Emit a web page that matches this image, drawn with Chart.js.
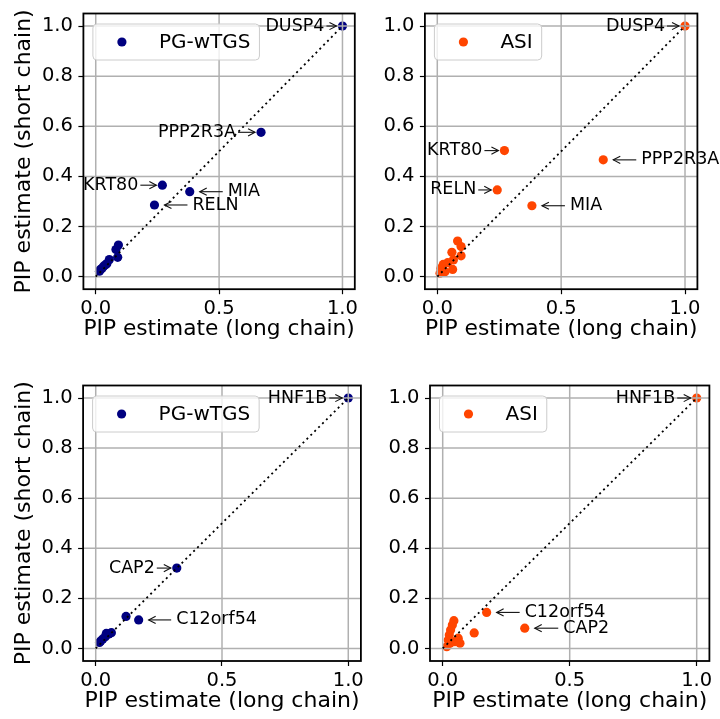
<!DOCTYPE html>
<html><head><meta charset="utf-8">
<script src="https://cdn.jsdelivr.net/npm/chart.js@4"></script>
<style>
html,body{margin:0;padding:0;background:#fff;}
#wrap{position:relative;width:720px;height:719px;overflow:hidden;background:#fff;}
canvas{position:absolute;}
</style></head><body><div id="wrap">
<canvas id="c0"></canvas><canvas id="c1"></canvas><canvas id="c2"></canvas><canvas id="c3"></canvas>
</div>
<script>
// ---------------- DATA ----------------
const xTickVals = [0.0, 0.5, 1.0];
const yTickVals = [0.0, 0.2, 0.4, 0.6, 0.8, 1.0];
const xTitle = 'PIP estimate (long chain)';
const yTitle = 'PIP estimate (short chain)';
const diagX = [0, 1];
const diagY = [0, 1];

// top row: first five points are the labelled genes
const topGenes = ['DUSP4', 'PPP2R3A', 'KRT80', 'MIA', 'RELN'];
const topPgX  = [1.000, 0.670, 0.270, 0.381, 0.238, 0.092, 0.082, 0.089, 0.055, 0.045, 0.040, 0.032, 0.025, 0.018, 0.015];
const topPgY  = [1.000, 0.576, 0.365, 0.339, 0.286, 0.126, 0.108, 0.077, 0.068, 0.052, 0.048, 0.042, 0.033, 0.028, 0.022];
const topAsiX = [1.000, 0.670, 0.271, 0.382, 0.242, 0.082, 0.096, 0.059, 0.096, 0.065, 0.042, 0.062, 0.024, 0.014, 0.031, 0.011];
const topAsiY = [1.000, 0.466, 0.503, 0.283, 0.346, 0.142, 0.120, 0.097, 0.083, 0.067, 0.056, 0.029, 0.049, 0.033, 0.020, 0.014];

// bottom row: first three points are the labelled genes
const botGenes = ['HNF1B', 'CAP2', 'C12orf54'];
const botPgX  = [1.000, 0.321, 0.170, 0.120, 0.062, 0.052, 0.042, 0.038, 0.028, 0.020, 0.015];
const botPgY  = [1.000, 0.321, 0.114, 0.128, 0.063, 0.058, 0.060, 0.047, 0.038, 0.030, 0.024];
const botAsiX = [1.000, 0.323, 0.173, 0.124, 0.044, 0.038, 0.031, 0.026, 0.061, 0.068, 0.029, 0.016, 0.048, 0.022, 0.055];
const botAsiY = [1.000, 0.081, 0.144, 0.062, 0.111, 0.094, 0.074, 0.054, 0.041, 0.021, 0.021, 0.007, 0.027, 0.034, 0.030];

const methodNames = ['PG-wTGS', 'ASI'];

// ---------------- STYLE / LAYOUT ----------------
const FONT = "'DejaVu Sans', 'Liberation Sans', sans-serif";
const COLORS = {'PG-wTGS': '#000080', 'ASI': '#ff4500'};
const TICK_PX = 19.5, TITLE_PX = 22, ANN_PX = 17.5, LEG_PX = 20, DOT_R = 4.6;

// annotation placement: [side of text, gap in px between point centre and text]
const panels = [
  {id:'c0', cx:0,   cy:0,   cw:360, ch:360, yW:83.4, padR:5.2,  padT:13.5, xH:70.8, yTitle:true,
   xs:topPgX, ys:topPgY, genes:topGenes, method:0,
   place:{DUSP4:['left',18], PPP2R3A:['left',25], KRT80:['left',24], MIA:['right',38], RELN:['right',38]}},
  {id:'c1', cx:360, cy:0,   cw:360, ch:360, yW:64.9, padR:22.6, padT:13.5, xH:70.8, yTitle:false,
   xs:topAsiX, ys:topAsiY, genes:topGenes, method:1,
   place:{DUSP4:['left',20], PPP2R3A:['right',38], KRT80:['left',22], MIA:['right',38], RELN:['left',21]}},
  {id:'c2', cx:0,   cy:360, cw:380, ch:359, yW:83.1, padR:19.1, padT:25.5, xH:58,   yTitle:true,
   xs:botPgX, ys:botPgY, genes:botGenes, method:0,
   place:{HNF1B:['left',21], CAP2:['left',22], C12orf54:['right',37.5]}},
  {id:'c3', cx:380, cy:360, cw:340, ch:359, yW:50.0, padR:10.6, padT:25.5, xH:58,   yTitle:false,
   xs:botAsiX, ys:botAsiY, genes:botGenes, method:1,
   place:{HNF1B:['left',21.5], C12orf54:['right',38], CAP2:['right',38.5]}}
];

function drawGrid(chart){
  const {ctx, chartArea:a, scales:{x, y}} = chart;
  ctx.save();
  ctx.strokeStyle = '#b0b0b0'; ctx.lineWidth = 1.5;
  xTickVals.forEach(v => { const p = x.getPixelForValue(v); ctx.beginPath(); ctx.moveTo(p, a.top); ctx.lineTo(p, a.bottom); ctx.stroke(); });
  yTickVals.forEach(v => { const p = y.getPixelForValue(v); ctx.beginPath(); ctx.moveTo(a.left, p); ctx.lineTo(a.right, p); ctx.stroke(); });
  ctx.restore();
}

function drawArrow(ctx, x0, y0, x1, y1){
  const dir = Math.sign(x1 - x0);
  ctx.beginPath(); ctx.moveTo(x0, y0); ctx.lineTo(x1, y1); ctx.stroke();
  ctx.beginPath();
  ctx.moveTo(x1 - dir*7, y1 - 3.6); ctx.lineTo(x1, y1); ctx.lineTo(x1 - dir*7, y1 + 3.6);
  ctx.stroke();
}

function drawAnnotations(chart, p){
  const {ctx, scales:{x, y}} = chart;
  ctx.save();
  ctx.font = ANN_PX + 'px ' + FONT;
  ctx.fillStyle = '#000'; ctx.strokeStyle = '#111'; ctx.lineWidth = 1.1;
  ctx.textBaseline = 'middle';
  p.genes.forEach((g, i) => {
    const px = x.getPixelForValue(p.xs[i]), py = y.getPixelForValue(p.ys[i]);
    const [side, gap] = p.place[g];
    let tx, a0, a1;
    if (side === 'left'){ ctx.textAlign = 'right'; tx = px - gap; a0 = tx + 2; a1 = px - 6; }
    else { ctx.textAlign = 'left'; tx = px + gap; a0 = tx - 5; a1 = px + 10; }
    ctx.fillText(g, tx, py);
    drawArrow(ctx, a0, py, a1, py);
  });
  ctx.restore();
}

function drawLegend(chart){
  const {ctx, chartArea:a} = chart;
  const ds = chart.data.datasets[1];
  ctx.save();
  ctx.font = LEG_PX + 'px ' + FONT;
  const tw = ctx.measureText(ds.label).width;
  const bx = a.left + 9.5, by = a.top + 10.5, bw = 66 + tw + 9, bh = 36, r = 4;
  ctx.beginPath();
  ctx.roundRect(bx, by, bw, bh, r);
  ctx.fillStyle = 'rgba(255,255,255,0.8)'; ctx.fill();
  ctx.strokeStyle = '#cccccc'; ctx.lineWidth = 1; ctx.stroke();
  ctx.beginPath(); ctx.arc(bx + 29, by + bh/2, DOT_R, 0, Math.PI*2);
  ctx.fillStyle = ds.backgroundColor; ctx.fill();
  ctx.fillStyle = '#000'; ctx.textAlign = 'left'; ctx.textBaseline = 'middle';
  ctx.fillText(ds.label, bx + 66, by + bh/2 + 0.5);
  ctx.restore();
}

function drawFrame(chart){
  const {ctx, chartArea:a} = chart;
  ctx.save(); ctx.strokeStyle = '#000'; ctx.lineWidth = 1.8;
  ctx.strokeRect(a.left, a.top, a.right - a.left, a.bottom - a.top);
  ctx.restore();
}

panels.forEach(p => {
  const cv = document.getElementById(p.id);
  cv.width = p.cw; cv.height = p.ch;
  cv.style.left = p.cx + 'px'; cv.style.top = p.cy + 'px';
  cv.style.width = p.cw + 'px'; cv.style.height = p.ch + 'px';
  const name = methodNames[p.method];
  const color = COLORS[name];
  const xTitlePad = p.xH - 40.5 - TITLE_PX*1.2/2;
  const plugin = {
    id: 'pipExtras',
    afterDatasetDraw(chart, args){ if (args.index === 1) drawGrid(chart); },
    afterDatasetsDraw(chart){ drawFrame(chart); drawAnnotations(chart, p); drawLegend(chart); }
  };
  new Chart(cv, {
    type: 'scatter',
    data: {
      datasets: [
        {label: 'diagonal', data: diagX.map((v, i) => ({x: v, y: diagY[i]})), showLine: true,
         borderColor: '#000', borderWidth: 1.8, borderDash: [2, 3.5], pointRadius: 0, order: 0, fill: false},
        {label: name, data: p.xs.map((v, i) => ({x: v, y: p.ys[i]})), backgroundColor: color,
         borderColor: color, borderWidth: 0, pointRadius: DOT_R, pointHoverRadius: DOT_R, order: 1}
      ]
    },
    options: {
      responsive: false, animation: false, devicePixelRatio: 1, events: [],
      layout: {padding: {top: p.padT, right: p.padR, left: 0, bottom: 0}},
      plugins: {legend: {display: false}, tooltip: {enabled: false}},
      scales: {
        x: {
          type: 'linear', min: -0.05, max: 1.05,
          afterBuildTicks: s => { s.ticks = xTickVals.map(v => ({value: v})); },
          afterFit: s => { s.height = p.xH; s.paddingLeft = 0; s.paddingRight = 0; s.paddingTop = 0; s.paddingBottom = 0; },
          grid: {display: true, drawOnChartArea: false, drawTicks: true, tickLength: 5, tickColor: '#000', tickWidth: 1.2, color: 'rgba(0,0,0,0)'},
          border: {display: false},
          ticks: {autoSkip: false, maxRotation: 0, minRotation: 0, padding: 3.3, color: '#000',
                  font: {family: FONT, size: TICK_PX}, callback: v => Number(v).toFixed(1)},
          title: {display: true, text: xTitle, color: '#000', font: {family: FONT, size: TITLE_PX},
                  padding: {top: 0, bottom: xTitlePad}}
        },
        y: {
          type: 'linear', min: -0.05, max: 1.05,
          afterBuildTicks: s => { s.ticks = yTickVals.map(v => ({value: v})); },
          afterFit: s => { s.width = p.yW; s.paddingLeft = 0; s.paddingRight = 0; s.paddingTop = 0; s.paddingBottom = 0; },
          grid: {display: true, drawOnChartArea: false, drawTicks: true, tickLength: 5, tickColor: '#000', tickWidth: 1.2, color: 'rgba(0,0,0,0)'},
          border: {display: false},
          ticks: {autoSkip: false, padding: 5.5, color: '#000',
                  font: {family: FONT, size: TICK_PX}, callback: v => Number(v).toFixed(1)},
          title: {display: p.yTitle, text: yTitle, color: '#000', font: {family: FONT, size: TITLE_PX},
                  padding: {top: 10.8, bottom: 0}}
        }
      }
    },
    plugins: [plugin]
  });
});
</script>
</body></html>
